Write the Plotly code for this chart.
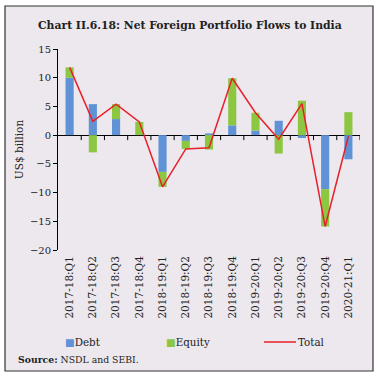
import plotly.graph_objects as go

categories = ["2017-18:Q1", "2017-18:Q2", "2017-18:Q3", "2017-18:Q4",
              "2018-19:Q1", "2018-19:Q2", "2018-19:Q3", "2018-19:Q4",
              "2019-20:Q1", "2019-20:Q2", "2019-20:Q3", "2019-20:Q4",
              "2020-21:Q1"]
debt = [10.0, 5.4, 2.8, 0.0, -6.4, -1.0, 0.3, 1.7, 0.8, 2.5, -0.5, -9.4, -4.2]
equity = [1.8, -3.0, 2.6, 2.3, -2.6, -1.4, -2.5, 8.2, 3.1, -3.2, 6.0, -6.5, 4.0]
total = [11.8, 2.4, 5.4, 2.3, -9.0, -2.4, -2.2, 9.9, 3.9, -0.7, 5.5, -15.9, -0.2]

SERIF = "DejaVu Serif"
DEBT_C, EQ_C, TOT_C = "#5f93d6", "#8dc641", "#e8202a"
W, H = 380, 379
ML, MR, MT, MB = 58, 20, 49, 129
PW, PH = W - ML - MR, H - MT - MB

def px_x(px):
    return (px - ML) / PW

def px_y(py):
    return (H - MB - py) / PH

fig = go.Figure()
fig.add_trace(go.Bar(x=categories, y=debt, name="Debt", marker_color=DEBT_C,
                     marker_line_width=0, width=0.35))
fig.add_trace(go.Bar(x=categories, y=equity, name="Equity", marker_color=EQ_C,
                     marker_line_width=0, width=0.35))
fig.add_trace(go.Scatter(x=categories, y=total, name="Total", mode="lines",
                         line=dict(color=TOT_C, width=1.5)))

ymin, ymax = -20, 15
n = len(categories)
rng = [-0.5, n - 0.5]

# category-boundary tick marks hanging below the zero line
tick_shapes = [dict(type="line", xref="x", yref="y", ysizemode="pixel", yanchor=0,
                    x0=i - 0.5, x1=i - 0.5, y0=0, y1=-5,
                    line=dict(color="black", width=1))
               for i in range(1, n + 1)]

fig.update_layout(
    width=W, height=H,
    margin=dict(l=ML, r=MR, t=MT, b=MB),
    paper_bgcolor="white",
    plot_bgcolor="rgba(0,0,0,0)",
    barmode="relative",
    font=dict(family=SERIF, size=9, color="#222"),
    showlegend=False,
    xaxis=dict(type="category", range=rng, automargin=False,
               showline=False, ticks="", tickangle=-90, showgrid=False,
               zeroline=False, tickfont=dict(family=SERIF, size=10.5), ticklabelstandoff=3),
    yaxis=dict(range=[ymin, ymax], dtick=5, showline=True, linecolor="black",
               linewidth=1, ticks="outside", ticklen=4, tickcolor="black", automargin=False,
               showgrid=False, zeroline=True, zerolinecolor="black", zerolinewidth=1,
               tickfont=dict(family=SERIF, size=10),
               title=dict(text="US$ billion", font=dict(family=SERIF, size=10.5), standoff=4)),
    shapes=[
        dict(type="rect", xref="paper", yref="paper",
             x0=px_x(5), x1=px_x(373), y0=px_y(371), y1=px_y(6),
             line=dict(color="#333", width=1.2), fillcolor="#ece8ee", layer="below"),
        dict(type="line", xref="paper", yref="paper",
             x0=px_x(264), x1=px_x(296), y0=px_y(342), y1=px_y(342),
             line=dict(color=TOT_C, width=1.5)),
    ] + tick_shapes,
    annotations=[
        dict(text="<b>Chart II.6.18: Net Foreign Portfolio Flows to India</b>",
             xref="paper", yref="paper", x=px_x(36), y=px_y(25),
             xanchor="left", yanchor="middle", showarrow=False,
             font=dict(family=SERIF, size=10.8, color="#222")),
        dict(text="<b>Source:</b> NSDL and SEBI.",
             xref="paper", yref="paper", x=px_x(16), y=px_y(359),
             xanchor="left", yanchor="middle", showarrow=False,
             font=dict(family=SERIF, size=9.3, color="#222")),
        dict(text=f"<span style='color:{DEBT_C}'>■</span>Debt",
             xref="paper", yref="paper", x=px_x(63), y=px_y(342),
             xanchor="left", yanchor="middle", showarrow=False,
             font=dict(family=SERIF, size=10.3, color="#222")),
        dict(text=f"<span style='color:{EQ_C}'>■</span>Equity",
             xref="paper", yref="paper", x=px_x(164), y=px_y(342),
             xanchor="left", yanchor="middle", showarrow=False,
             font=dict(family=SERIF, size=10.3, color="#222")),
        dict(text="Total",
             xref="paper", yref="paper", x=px_x(296), y=px_y(342),
             xanchor="left", yanchor="middle", showarrow=False,
             font=dict(family=SERIF, size=10.3, color="#222")),
    ],
)

fig.write_html("out.html", config={"displayModeBar": False},
               post_script="document.body.style.margin='0';document.body.style.padding='0';")
